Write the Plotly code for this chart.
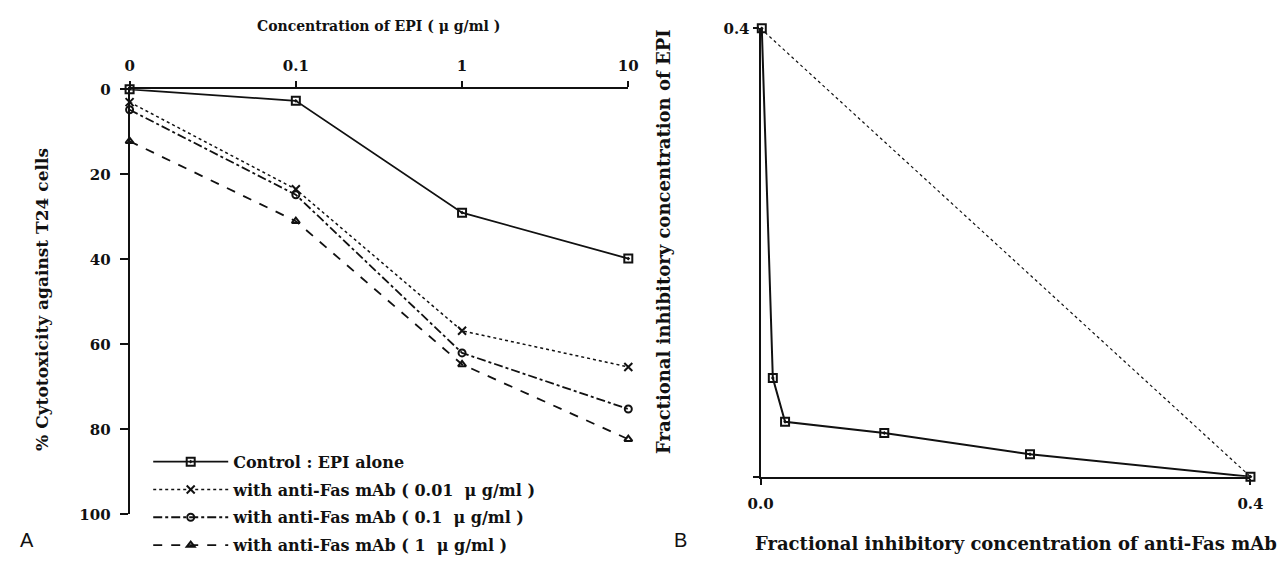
import plotly.graph_objects as go

# ---- Panel A data ----
epi_conc = ["0", "0.1", "1", "10"]
control = [0, 2.7, 29.0, 39.8]
fas_001 = [3.0, 23.5, 56.8, 65.3]
fas_01 = [4.8, 24.8, 62.0, 75.2]
fas_1 = [12.2, 31.0, 64.7, 82.3]

legend_names = [
    "Control : EPI alone",
    "with anti-Fas mAb ( 0.01  μ g/ml )",
    "with anti-Fas mAb ( 0.1  μ g/ml )",
    "with anti-Fas mAb ( 1  μ g/ml )",
]

# ---- Panel B data (isobologram) ----
fic_fas = [0.001, 0.010, 0.020, 0.101, 0.220, 0.400]
fic_epi = [0.400, 0.088, 0.049, 0.039, 0.020, 0.000]
additive_x = [0.0, 0.4]
additive_y = [0.4, 0.0]

W, H = 1286, 568
SERIF = "DejaVu Serif"
BLACK = "#111111"

fig = go.Figure()

series = [
    (control, "solid", "square-open-dot", 8),
    (fas_001, "dot", "x-thin-open", 8),
    (fas_01, "dashdot", "circle-open", 7),
    (fas_1, "dash", "triangle-up-open", 7),
]
for i, ((vals, dash, sym, sz), name) in enumerate(zip(series, legend_names)):
    fig.add_trace(go.Scatter(
        x=epi_conc, y=vals, name=name, mode="lines+markers",
        legendgroup=f"g{i}",
        line=dict(color=BLACK, width=1.8 if dash != "dot" else 1.5, dash=dash),
        marker=dict(symbol=sym, size=sz, color=BLACK, line=dict(color=BLACK, width=2)),
        xaxis="x", yaxis="y", cliponaxis=False,
    ))

fig.add_trace(go.Scatter(
    x=additive_x, y=additive_y, mode="lines", showlegend=False,
    line=dict(color=BLACK, width=1.2, dash="dot"),
    xaxis="x2", yaxis="y2", cliponaxis=False,
))
fig.add_trace(go.Scatter(
    x=fic_fas, y=fic_epi, mode="lines+markers", showlegend=False,
    line=dict(color=BLACK, width=2),
    marker=dict(symbol="square-open-dot", size=8, color=BLACK, line=dict(color=BLACK, width=2)),
    xaxis="x2", yaxis="y2", cliponaxis=False,
))

tickfont = dict(family=SERIF, size=15, color=BLACK, weight="bold")

def px_x(p):
    return p / W

def px_y(p):
    return 1 - p / H

fig.update_layout(
    width=W, height=H,
    margin=dict(l=0, r=0, t=0, b=0),
    paper_bgcolor="white", plot_bgcolor="white",
    showlegend=True,
    legend=dict(
        x=px_x(138), y=px_y(450), xanchor="left", yanchor="top",
        font=dict(family=SERIF, size=16, color=BLACK, weight="bold"),
        itemwidth=75, tracegroupgap=4, bgcolor="rgba(0,0,0,0)",
        traceorder="grouped",
    ),
    xaxis=dict(
        domain=[px_x(119), px_x(628)], side="top", type="category",
        range=[0, 3], showgrid=False, zeroline=False,
        showline=True, linecolor=BLACK, linewidth=2,
        ticks="outside", ticklen=6, tickwidth=1.5, tickcolor=BLACK,
        tickfont=tickfont, anchor="y", ticklabelstandoff=4,
    ),
    yaxis=dict(
        domain=[px_y(522), px_y(83)], range=[100, 0],
        showgrid=False, zeroline=False,
        showline=True, linecolor=BLACK, linewidth=2,
        tickvals=[0, 20, 40, 60, 80, 100],
        ticks="outside", ticklen=8, tickwidth=1.5, tickcolor=BLACK,
        tickfont=tickfont, anchor="x", ticklabelstandoff=6,
    ),
    xaxis2=dict(
        domain=[px_x(763), px_x(1263)], range=[0, 0.4],
        showgrid=False, zeroline=False,
        showline=True, linecolor=BLACK, linewidth=2,
        tickvals=[0, 0.4], ticktext=["0.0", "0.4"],
        ticks="outside", ticklen=6, tickwidth=1.5, tickcolor=BLACK,
        tickfont=tickfont, anchor="y2", ticklabelstandoff=6,
    ),
    yaxis2=dict(
        domain=[px_y(483), px_y(20)], range=[0, 0.4],
        showgrid=False, zeroline=False,
        showline=True, linecolor=BLACK, linewidth=2,
        tickvals=[0, 0.4], ticktext=["", "0.4"],
        ticks="outside", ticklen=6, tickwidth=1.5, tickcolor=BLACK,
        tickfont=tickfont, anchor="x2",
    ),
)

def ann_font(size):
    return dict(family=SERIF, size=size, color=BLACK, weight="bold")

fig.add_annotation(text="Concentration of EPI ( μ g/ml )", x=px_x(373), y=px_y(18),
                   xref="paper", yref="paper", showarrow=False, font=ann_font(14),
                   xanchor="center", yanchor="middle")
fig.add_annotation(text="% Cytotoxicity against T24 cells", x=px_x(30), y=px_y(300),
                   xref="paper", yref="paper", showarrow=False, font=ann_font(17),
                   textangle=-90, xanchor="center", yanchor="middle")
fig.add_annotation(text="Fractional inhibitory concentration of EPI", x=px_x(664), y=px_y(240),
                   xref="paper", yref="paper", showarrow=False, font=ann_font(18),
                   textangle=-90, xanchor="center", yanchor="middle")
fig.add_annotation(text="Fractional inhibitory concentration of anti-Fas mAb", x=px_x(1024), y=px_y(552),
                   xref="paper", yref="paper", showarrow=False, font=ann_font(18),
                   xanchor="center", yanchor="middle")
panel_font = dict(family="Liberation Sans", size=20, color=BLACK)
fig.add_annotation(text="A", x=px_x(14), y=px_y(548), xref="paper", yref="paper",
                   showarrow=False, font=panel_font, xanchor="center", yanchor="middle")
fig.add_annotation(text="B", x=px_x(681), y=px_y(548), xref="paper", yref="paper",
                   showarrow=False, font=panel_font, xanchor="center", yanchor="middle")

fig.write_html("out.html")
